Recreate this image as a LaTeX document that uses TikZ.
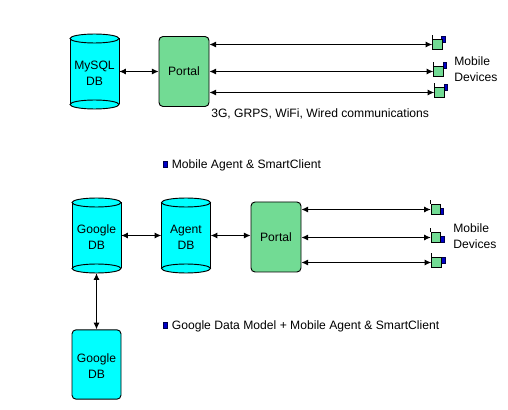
\documentclass[tikz,border=0pt]{standalone}
\usepackage{fontspec}
\setmainfont{Liberation Sans}
\usepackage{xcolor}
\usetikzlibrary{arrows.meta,positioning,calc}

\definecolor{dbcyan}{RGB}{0,255,255}
\definecolor{portalgreen}{RGB}{114,219,148}
\definecolor{tagblue}{RGB}{0,0,200}

\tikzset{
	dbnode/.style={minimum width=36.75pt,minimum height=56.25pt,inner sep=0pt},
	dbbox/.style={dbnode,draw,fill=dbcyan,rounded corners=3pt,line width=0.7pt,minimum height=52pt},
	dbtext/.style={inner sep=0pt,align=center,font=\fontsize{9.1}{12}\selectfont},
	portalbox/.style={draw,fill=portalgreen,rounded corners=3pt,line width=0.7pt,minimum width=37.5pt,minimum height=52.5pt,inner sep=0pt,font=\fontsize{9.1}{11}\selectfont},
	devbody/.style={draw,fill=portalgreen,line width=0.7pt,minimum width=7.2pt,minimum height=8.2pt,inner sep=0pt},
	tagbox/.style={draw=black!70!blue,fill=tagblue,line width=0.3pt,minimum width=2.6pt,minimum height=4.6pt,inner sep=0pt},
	biarrow/.style={{Latex[length=5pt,width=4.5pt]}-{Latex[length=5pt,width=4.5pt]},line width=0.7pt},
	txt/.style={inner sep=0pt,font=\fontsize{9.1}{12}\selectfont},
}

% cylinder, centre at #2,#3
\newcommand{\dbcyl}[4]{
	\begin{scope}[shift={(#2,#3)}]
		\fill[dbcyan] (-24.5,-33) rectangle (24.5,33);
		\draw[line width=0.7pt] (-24.5,-33) -- (-24.5,33);
		\draw[line width=0.7pt] (24.5,-33) -- (24.5,33);
		\draw[line width=0.7pt,fill=dbcyan] (0,-33) ellipse [x radius=24.5,y radius=4.5];
		\draw[line width=0.7pt,fill=dbcyan] (0,33) ellipse [x radius=24.5,y radius=4.5];
		\node[dbnode] (#1) at (0,0) {};
		\node[dbtext] (#1text) at (0,1.5) {#4};
	\end{scope}
}

% phone: name, centre, centre of the blue tag
\newcommand{\mobdev}[5]{
	\node[tagbox] (#1tag) at (#4,#5) {};
	\node[devbody] (#1) at (#2,#3) {};
	\draw[line width=0.6pt] (#1.north west) -- ++(0,-4);
}

\begin{document}
\begin{tikzpicture}[x=0.75pt,y=-0.75pt]
	\useasboundingbox (0,0) rectangle (508,410);
	
	% upper part
	\dbcyl{mysql}{94.5}{71.5}{MySQL\\DB}
	\node[portalbox] (portalA) at (184,71.5) {Portal};
	
	\mobdev{devA}{437.5}{44.5}{443}{39}
	\mobdev{devB}{438.5}{71.5}{444.5}{65.5}
	\mobdev{devC}{439.5}{92.5}{445.5}{87}
	
	\draw[biarrow] (mysql.east) -- (portalA.west);
	\draw[biarrow] (devA.west -| portalA.east) -- (devA.west);
	\draw[biarrow] (devB.west -| portalA.east) -- (devB.west);
	\draw[biarrow] (devC.west -| portalA.east) -- (devC.west);
	
	\node[txt,anchor=west,align=left] (mobileA) at (454,69) {Mobile\\Devices};
	\node[txt,anchor=west] (linkLabel) at (211,113.5) {3G, GRPS, WiFi, Wired communications};
	
	\node[tagbox,minimum height=4.8pt] (bulletA) at (165,164.5) {};
	\node[txt,right=3.5pt of bulletA,yshift=-1pt] (captionA) {Mobile Agent \& SmartClient};
	
	% lower part
	\dbcyl{googleA}{96.5}{235.5}{Google\\DB}
	\dbcyl{agent}{186}{235.5}{Agent\\DB}
	\node[portalbox] (portalB) at (276,237) {Portal};
	\node[dbbox] (googleB) at (96.5,364.5) {};
	\node[dbtext] (googleBtext) at (96.5,366) {Google\\DB};
	
	\mobdev{devD}{436}{209.5}{441.5}{211}
	\mobdev{devE}{436}{237.5}{442}{239}
	\mobdev{devF}{436.5}{262.5}{443}{260}
	
	\draw[biarrow] (googleA.east) -- (agent.west);
	\draw[biarrow] (agent.east) -- (portalB.west |- agent.east);
	\draw[biarrow] (googleA.south) -- (googleB.north);
	\draw[biarrow] (devD.west -| portalB.east) -- (devD.west);
	\draw[biarrow] (devE.west -| portalB.east) -- (devE.west);
	\draw[biarrow] (devF.west -| portalB.east) -- (devF.west);
	
	\node[txt,anchor=west,align=left] (mobileB) at (453,236) {Mobile\\Devices};
	
	\node[tagbox,minimum height=4.8pt] (bulletB) at (165,325) {};
	\node[txt,right=3.5pt of bulletB,yshift=-0.75pt] (captionB) {Google Data Model + Mobile Agent \& SmartClient};
\end{tikzpicture}
\end{document}
